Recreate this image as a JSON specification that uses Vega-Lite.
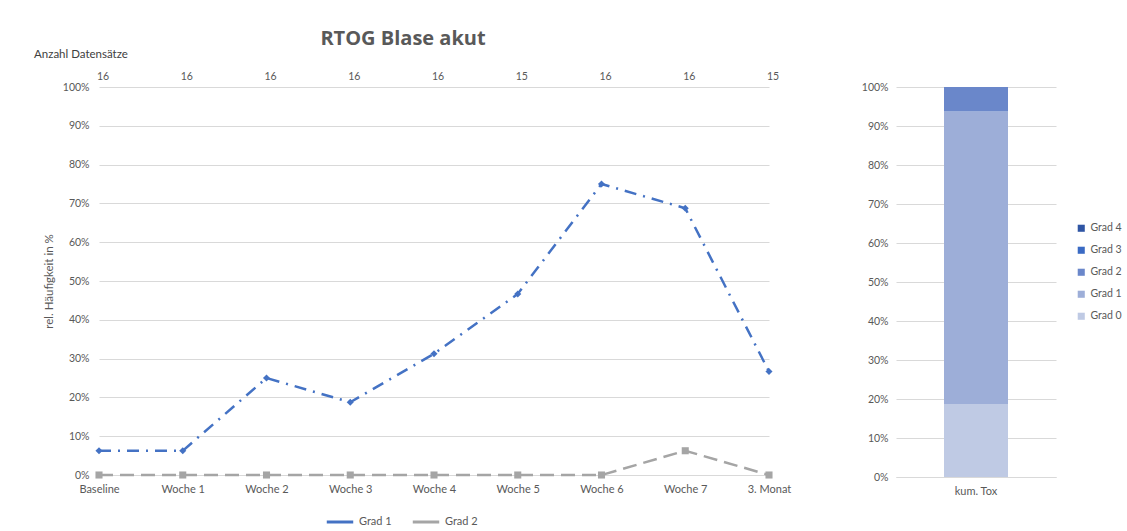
{
  "$schema": "https://vega.github.io/schema/vega-lite/v6.json",
  "background": "white",
  "padding": {"left": 34, "top": 29, "right": 5, "bottom": 5},
  "config": {
    "font": "Lato",
    "view": {"stroke": null},
    "axis": {"labelColor": "#595959", "labelFontSize": 10.5, "titleColor": "#595959", "titleFontWeight": "normal", "titleFontSize": 11.5, "gridColor": "#D9D9D9", "domainColor": "#D9D9D9", "ticks": false},
    "legend": {"labelColor": "#595959", "labelFontSize": 10.5}
  },
  "datasets": {
    "verlauf": [
      {"zeit": "Baseline", "grad": "Grad 1", "wert": 0.0625},
      {"zeit": "Woche 1", "grad": "Grad 1", "wert": 0.0625},
      {"zeit": "Woche 2", "grad": "Grad 1", "wert": 0.25},
      {"zeit": "Woche 3", "grad": "Grad 1", "wert": 0.1875},
      {"zeit": "Woche 4", "grad": "Grad 1", "wert": 0.3125},
      {"zeit": "Woche 5", "grad": "Grad 1", "wert": 0.4667},
      {"zeit": "Woche 6", "grad": "Grad 1", "wert": 0.75},
      {"zeit": "Woche 7", "grad": "Grad 1", "wert": 0.6875},
      {"zeit": "3. Monat", "grad": "Grad 1", "wert": 0.2667},
      {"zeit": "Baseline", "grad": "Grad 2", "wert": 0},
      {"zeit": "Woche 1", "grad": "Grad 2", "wert": 0},
      {"zeit": "Woche 2", "grad": "Grad 2", "wert": 0},
      {"zeit": "Woche 3", "grad": "Grad 2", "wert": 0},
      {"zeit": "Woche 4", "grad": "Grad 2", "wert": 0},
      {"zeit": "Woche 5", "grad": "Grad 2", "wert": 0},
      {"zeit": "Woche 6", "grad": "Grad 2", "wert": 0},
      {"zeit": "Woche 7", "grad": "Grad 2", "wert": 0.0625},
      {"zeit": "3. Monat", "grad": "Grad 2", "wert": 0}
    ],
    "anzahl": [
      {"zeit": "Baseline", "n": 16, "pos": 1.027},
      {"zeit": "Woche 1", "n": 16, "pos": 1.027},
      {"zeit": "Woche 2", "n": 16, "pos": 1.027},
      {"zeit": "Woche 3", "n": 16, "pos": 1.027},
      {"zeit": "Woche 4", "n": 16, "pos": 1.027},
      {"zeit": "Woche 5", "n": 15, "pos": 1.027},
      {"zeit": "Woche 6", "n": 16, "pos": 1.027},
      {"zeit": "Woche 7", "n": 16, "pos": 1.027},
      {"zeit": "3. Monat", "n": 15, "pos": 1.027}
    ],
    "kum": [
      {"kat": "kum. Tox", "grad": "Grad 0", "wert": 0.1875, "ord": 0},
      {"kat": "kum. Tox", "grad": "Grad 1", "wert": 0.75, "ord": 1},
      {"kat": "kum. Tox", "grad": "Grad 2", "wert": 0.0625, "ord": 2},
      {"kat": "kum. Tox", "grad": "Grad 3", "wert": 0, "ord": 3},
      {"kat": "kum. Tox", "grad": "Grad 4", "wert": 0, "ord": 4}
    ]
  },
  "hconcat": [
    {
      "width": 670,
      "height": 388,
      "title": {"text": "RTOG Blase akut", "font": "Open Sans", "fontSize": 20, "fontWeight": "bold", "color": "#595959", "anchor": "middle", "dx": -31, "offset": 0},
      "layer": [
        {
          "data": {"name": "verlauf"},
          "mark": {"type": "line", "strokeWidth": 2.5},
          "encoding": {
            "x": {"field": "zeit", "type": "nominal", "scale": {"type": "point", "padding": 0, "domain": ["Baseline", "Woche 1", "Woche 2", "Woche 3", "Woche 4", "Woche 5", "Woche 6", "Woche 7", "3. Monat"]}, "axis": {"title": null, "labelAngle": 0, "labelPadding": 8, "labelFontSize": 11, "grid": false}},
            "y": {"field": "wert", "type": "quantitative", "scale": {"domain": [0, 1], "nice": false}, "axis": {"format": ".0%", "tickCount": 10, "title": "rel. Häufigkeit in %", "titlePadding": 8, "labelPadding": 10, "domain": false}},
            "color": {"field": "grad", "type": "nominal", "scale": {"domain": ["Grad 1", "Grad 2"], "range": ["#4472C4", "#A5A5A5"]}, "legend": {"title": null, "orient": "none", "legendX": 226, "legendY": 420, "direction": "horizontal", "symbolType": "stroke", "symbolSize": 700, "symbolStrokeWidth": 3, "labelFontSize": 11, "columnPadding": 14}},
            "strokeDash": {"field": "grad", "type": "nominal", "scale": {"domain": ["Grad 1", "Grad 2"], "range": [[12, 7, 2, 7], [14, 7]]}, "legend": null}
          }
        },
        {
          "data": {"name": "verlauf"},
          "mark": {"type": "point", "filled": true, "opacity": 1},
          "encoding": {
            "x": {"field": "zeit", "type": "nominal"},
            "y": {"field": "wert", "type": "quantitative"},
            "color": {"field": "grad", "type": "nominal", "legend": null},
            "shape": {"field": "grad", "type": "nominal", "scale": {"domain": ["Grad 1", "Grad 2"], "range": ["diamond", "square"]}, "legend": null},
            "size": {"value": 50}
          }
        },
        {
          "data": {"name": "anzahl"},
          "mark": {"type": "text", "align": "left", "baseline": "middle", "dx": -2, "fontSize": 10.5, "color": "#595959"},
          "encoding": {
            "x": {"field": "zeit", "type": "nominal"},
            "y": {"field": "pos", "type": "quantitative"},
            "text": {"field": "n", "type": "quantitative"}
          }
        },
        {
          "data": {"values": [{"zeit": "Baseline", "pos": 1.082, "label": "Anzahl Datensätze"}]},
          "mark": {"type": "text", "align": "left", "baseline": "middle", "dx": -65, "fontSize": 11.5, "color": "#404040"},
          "encoding": {
            "x": {"field": "zeit", "type": "nominal"},
            "y": {"field": "pos", "type": "quantitative"},
            "text": {"field": "label", "type": "nominal"}
          }
        }
      ]
    },
    {
      "width": 160,
      "height": 390,
      "data": {"name": "kum"},
      "mark": {"type": "bar", "width": 64},
      "encoding": {
        "x": {"field": "kat", "type": "nominal", "axis": {"title": null, "labelAngle": 0, "labelPadding": 8, "labelFontSize": 11, "grid": false}},
        "y": {"field": "wert", "type": "quantitative", "stack": "zero", "scale": {"domain": [0, 1], "nice": false}, "axis": {"format": ".0%", "tickCount": 10, "title": null, "labelPadding": 8, "domain": false}},
        "order": {"field": "ord", "type": "quantitative"},
        "color": {"field": "grad", "type": "nominal", "scale": {"domain": ["Grad 4", "Grad 3", "Grad 2", "Grad 1", "Grad 0"], "range": ["#2F55A4", "#3A6AC4", "#6A87CA", "#9DAED8", "#BFCAE4"]}, "legend": {"title": null, "orient": "none", "legendX": 180, "legendY": 136, "symbolType": "square", "symbolSize": 50, "rowPadding": 11}}
      }
    }
  ],
  "spacing": 70,
  "resolve": {"scale": {"color": "independent", "y": "independent"}}
}
